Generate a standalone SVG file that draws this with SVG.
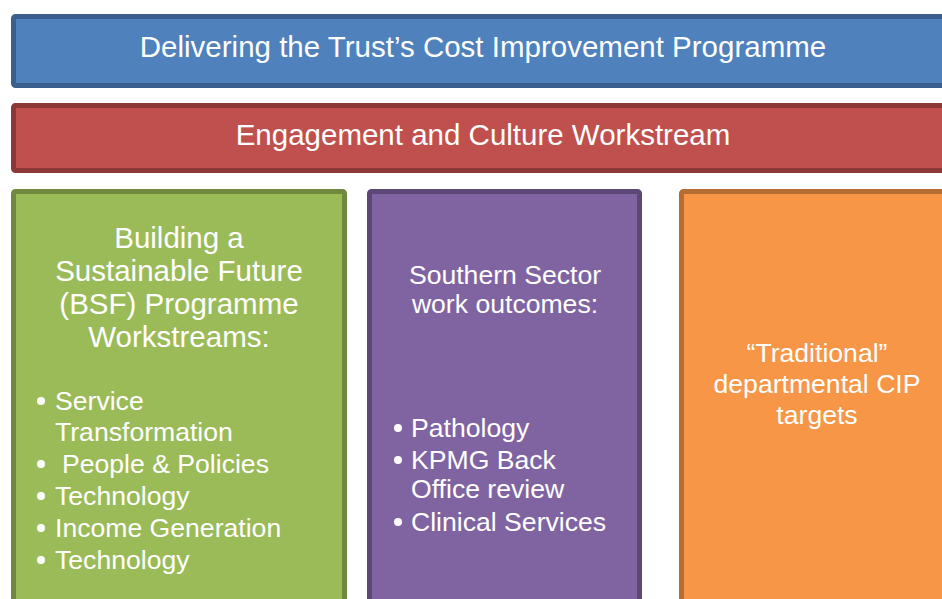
<svg xmlns="http://www.w3.org/2000/svg" width="942" height="599" viewBox="0 0 942 599">
  <style>
    text { font-family: "Liberation Sans", Arial, sans-serif; fill: #ffffff; }
    .box { stroke-width: 5; }
    .big { font-size: 29.5px; }
    .sm { font-size: 26.6px; }
    .c { text-anchor: middle; }
  </style>
  <rect width="942" height="599" fill="#ffffff"/>

  <g id="programme">
    <rect class="box" x="13.5" y="16.5" width="940" height="69" rx="2" fill="#4f81bd" stroke="#3b5f8c"/>
    <text class="big c" x="483" y="57">Delivering the Trust’s Cost Improvement Programme</text>
  </g>

  <g id="engagement">
    <rect class="box" x="13.5" y="105.5" width="940" height="65" rx="2" fill="#c0504d" stroke="#8c3836"/>
    <text class="big c" x="483" y="145">Engagement and Culture Workstream</text>
  </g>

  <g id="bsf">
    <rect class="box" x="13.5" y="191.5" width="331" height="420" rx="2" fill="#9bbb59" stroke="#71893f"/>
    <text class="big c" x="179" y="248">Building a</text>
    <text class="big c" x="179" y="281">Sustainable Future</text>
    <text class="big c" x="179" y="314">(BSF) Programme</text>
    <text class="big c" x="179" y="347">Workstreams:</text>
    <g class="sm">
      <circle cx="41" cy="401" r="4" fill="#ffffff"/>
      <text x="55" y="410">Service</text>
      <text x="55" y="441">Transformation</text>
      <circle cx="41" cy="464" r="4" fill="#ffffff"/>
      <text x="62" y="473">People &amp; Policies</text>
      <circle cx="41" cy="496" r="4" fill="#ffffff"/>
      <text x="55" y="505">Technology</text>
      <circle cx="41" cy="528" r="4" fill="#ffffff"/>
      <text x="55" y="537">Income Generation</text>
      <circle cx="41" cy="560" r="4" fill="#ffffff"/>
      <text x="55" y="569">Technology</text>
    </g>
  </g>

  <g id="southern">
    <rect class="box" x="369.5" y="191.5" width="270" height="420" rx="2" fill="#8064a2" stroke="#5c4776"/>
    <text class="sm c" x="505" y="284">Southern Sector</text>
    <text class="sm c" x="505" y="313">work outcomes:</text>
    <g class="sm">
      <circle cx="398" cy="428" r="4" fill="#ffffff"/>
      <text x="411" y="437">Pathology</text>
      <circle cx="398" cy="460" r="4" fill="#ffffff"/>
      <text x="411" y="469">KPMG Back</text>
      <text x="411" y="498">Office review</text>
      <circle cx="398" cy="522" r="4" fill="#ffffff"/>
      <text x="411" y="531">Clinical Services</text>
    </g>
  </g>

  <g id="traditional">
    <rect class="box" x="681.5" y="191.5" width="280" height="420" rx="2" fill="#f79646" stroke="#b66d31"/>
    <text class="sm c" x="817" y="362">“Traditional”</text>
    <text class="sm c" x="817" y="393">departmental CIP</text>
    <text class="sm c" x="817" y="424">targets</text>
  </g>

  <g id="connectors"></g>
</svg>
